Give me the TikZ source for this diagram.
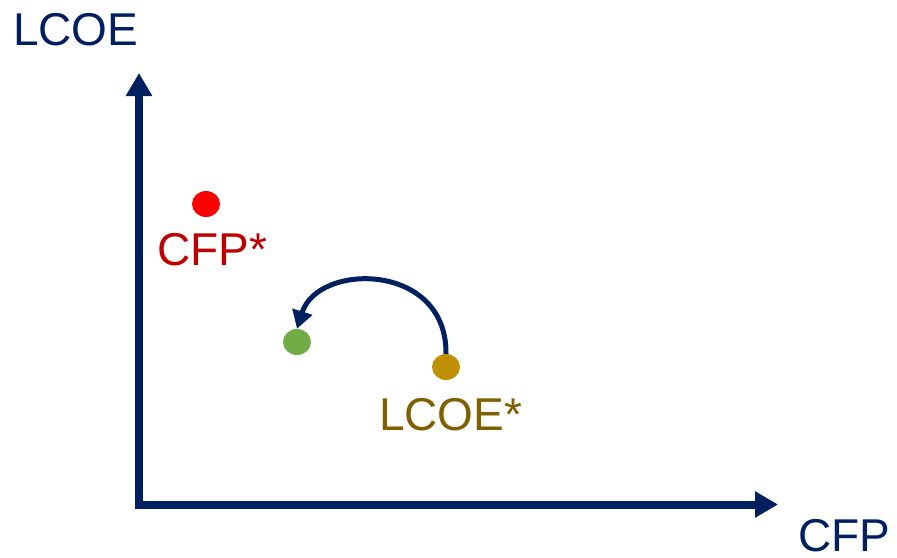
\documentclass[tikz,border=0pt]{standalone}
\usepackage{fontspec}
\setmainfont{Liberation Sans}
\usetikzlibrary{arrows.meta,shapes.geometric}
\definecolor{navy}{HTML}{002060}
\definecolor{cfpred}{HTML}{C00000}
\definecolor{dotred}{HTML}{FF0000}
\definecolor{lcoeolive}{HTML}{7F6000}
\definecolor{dotgold}{HTML}{BF9000}
\definecolor{dotgreen}{HTML}{70AD47}
\tikzset{
  axis/.style={draw=navy, line width=8pt, -{Triangle[length=23pt,width=25pt]}},
  lbl/.style={inner sep=0pt, anchor=base west, text depth=0pt, font=\fontsize{46}{52}\selectfont},
  dot/.style={ellipse, minimum width=28pt, minimum height=26pt, inner sep=0pt},
  move/.style={draw=navy, line width=5pt, -{Triangle[length=18pt,width=20pt]}}
}
\begin{document}
\begin{tikzpicture}[x=1pt, y=-1pt]
  \useasboundingbox (0,0) rectangle (897,557);
  % axes
  \coordinate (origin) at (139,504.5);
  \coordinate (ytop) at (139,73);
  \coordinate (xend) at (778,504.5);
  \draw[axis] ([yshift=4pt]origin) -- (ytop);
  \draw[axis] ([xshift=-4pt]origin) -- (xend);
  % axis labels
  \node[lbl, text=navy] (ylabel) at (13,45) {LCOE};
  \node[lbl, text=navy] (xlabel) at (798,551) {CFP};
  % points
  \node[dot, fill=dotred] (cfp) at (206,204) {};
  \node[lbl, text=cfpred] (cfplabel) at (157,265) {CFP*};
  \node[dot, fill=dotgreen] (opt) at (297,342) {};
  \node[dot, fill=dotgold] (lcoe) at (446,367) {};
  \node[lbl, text=lcoeolive] (lcoelabel) at (379,430) {LCOE*};
  % shift towards the optimum
  \draw[move] (lcoe.north) .. controls (447,262) and (318,262) .. (opt.north);
\end{tikzpicture}
\end{document}
